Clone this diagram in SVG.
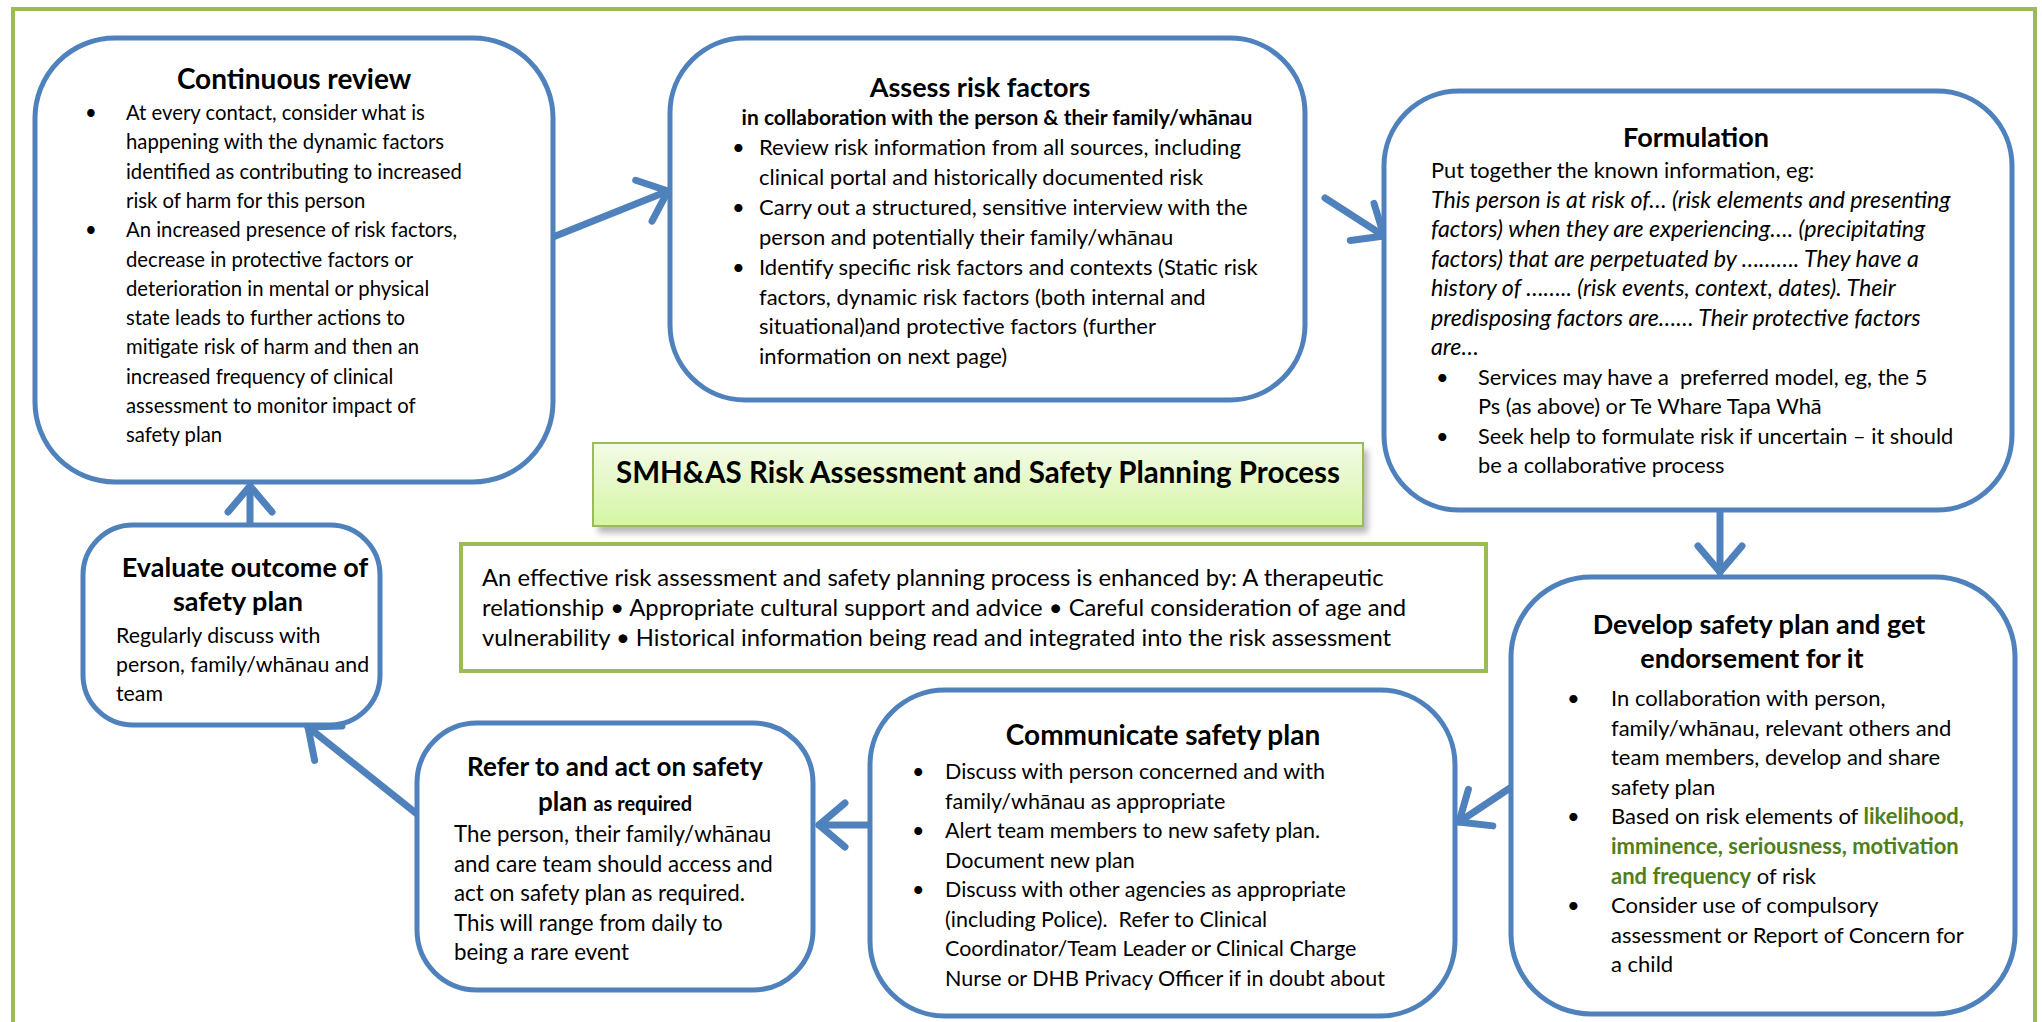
<svg xmlns="http://www.w3.org/2000/svg" width="2042" height="1022" viewBox="0 0 2042 1022">
<style>
.node{fill:#fff;stroke:#4F81BD;stroke-width:5}
.t{font-family:Lato,"Liberation Sans",sans-serif;fill:#000}
.title{font-size:27px;font-weight:bold;text-anchor:middle}
.it{font-style:italic}
.g{fill:#4F7F1A;font-weight:bold}
.conn{stroke:#4F81BD;stroke-width:7;fill:none;stroke-linecap:round;marker-end:url(#arr)}
</style>
<defs>
<marker id="arr" markerUnits="userSpaceOnUse" viewBox="-40 -30 50 60" refX="0" refY="0" markerWidth="50" markerHeight="60" orient="auto">
<path d="M-26,-22 L0,0 L-26,22" fill="none" stroke="#4F81BD" stroke-width="7" stroke-linecap="round" stroke-linejoin="round"/>
</marker>
<linearGradient id="tg" x1="0" y1="0" x2="0" y2="1">
<stop offset="0" stop-color="#F3FBE8"/>
<stop offset="1" stop-color="#D5F5A3"/>
</linearGradient>
<filter id="sh" x="-5%" y="-20%" width="110%" height="150%">
<feGaussianBlur stdDeviation="3"/>
</filter>
<clipPath id="fclip"><rect x="1384" y="91" width="628" height="387"/></clipPath>
</defs>
<rect x="13" y="9" width="2022" height="1040" fill="none" stroke="#9BBB59" stroke-width="4"/>

<g id="connectors">
<line class="conn" x1="553" y1="237" x2="668" y2="191"/>
<line class="conn" x1="1325" y1="198" x2="1384" y2="236"/>
<line class="conn" x1="1720" y1="510" x2="1720" y2="572"/>
<line class="conn" x1="1510" y1="788" x2="1459" y2="822"/>
<line class="conn" x1="868" y1="825" x2="819" y2="825"/>
<line class="conn" x1="417" y1="814" x2="308" y2="727"/>
<line class="conn" x1="250" y1="525" x2="250" y2="486"/>
</g>

<g id="continuous-review">
<rect class="node" x="35" y="38" width="518" height="444" rx="80"/>
<text class="t title" x="294" y="89" style="font-size:28px">Continuous review</text>
<g class="t" style="font-size:20.3px">
<text x="85" y="120">•</text>
<text x="126" y="120">At every contact, consider what is</text>
<text x="126" y="149.3">happening with the dynamic factors</text>
<text x="126" y="178.6">identified as contributing to increased</text>
<text x="126" y="207.9">risk of harm for this person</text>
<text x="85" y="237.2">•</text>
<text x="126" y="237.2">An increased presence of risk factors,</text>
<text x="126" y="266.5">decrease in protective factors or</text>
<text x="126" y="295.8">deterioration in mental or physical</text>
<text x="126" y="325.1">state leads to further actions to</text>
<text x="126" y="354.4">mitigate risk of harm and then an</text>
<text x="126" y="383.7">increased frequency of clinical</text>
<text x="126" y="413">assessment to monitor impact of</text>
<text x="126" y="442.3">safety plan</text>
</g>
</g>

<g id="assess-risk-factors">
<rect class="node" x="670" y="38" width="635" height="362" rx="75"/>
<text class="t title" x="980" y="97">Assess risk factors</text>
<text class="t" x="997" y="125" style="font-size:21px;font-weight:bold;text-anchor:middle">in collaboration with the person &amp; their family/whānau</text>
<g class="t" style="font-size:22px">
<text x="732" y="155">•</text>
<text x="759" y="155">Review risk information from all sources, including</text>
<text x="759" y="184.9">clinical portal and historically documented risk</text>
<text x="732" y="214.8">•</text>
<text x="759" y="214.8">Carry out a structured, sensitive interview with the</text>
<text x="759" y="244.7">person and potentially their family/whānau</text>
<text x="732" y="274.6">•</text>
<text x="759" y="274.6">Identify specific risk factors and contexts (Static risk</text>
<text x="759" y="304.5">factors, dynamic risk factors (both internal and</text>
<text x="759" y="334.4">situational)and protective factors (further</text>
<text x="759" y="364.3">information on next page)</text>
</g>
</g>

<g id="formulation">
<rect class="node" x="1384" y="91" width="628" height="419" rx="75"/>
<text class="t title" x="1696" y="147">Formulation</text>
<g class="t" style="font-size:21.8px" clip-path="url(#fclip)">
<text x="1431" y="178">Put together the known information, eg:</text>
<g class="it" style="font-size:23.2px">
<text x="1431" y="207.5">This person is at risk of… (risk elements and presenting</text>
<text x="1431" y="237">factors) when they are experiencing…. (precipitating</text>
<text x="1431" y="266.5">factors) that are perpetuated by ………. They have a</text>
<text x="1431" y="296">history of …….. (risk events, context, dates). Their</text>
<text x="1431" y="325.5">predisposing factors are…… Their protective factors</text>
<text x="1431" y="355">are…</text>
</g>
<text x="1436" y="384.5">•</text>
<text x="1478" y="384.5">Services may have a&#160; preferred model, eg, the 5</text>
<text x="1478" y="414">Ps (as above) or Te Whare Tapa Whā</text>
<text x="1436" y="443.5">•</text>
<text x="1478" y="443.5">Seek help to formulate risk if uncertain – it should</text>
<text x="1478" y="473">be a collaborative process</text>
</g>
</g>

<g id="develop-safety-plan">
<rect class="node" x="1511" y="577" width="504" height="437" rx="80"/>
<text class="t title" x="1759" y="634">Develop safety plan and get</text>
<text class="t title" x="1752" y="668">endorsement for it</text>
<g class="t" style="font-size:22px">
<text x="1567" y="706">•</text>
<text x="1611" y="706">In collaboration with person,</text>
<text x="1611" y="735.6">family/whānau, relevant others and</text>
<text x="1611" y="765.2">team members, develop and share</text>
<text x="1611" y="794.8">safety plan</text>
<text x="1567" y="824.4">•</text>
<text x="1611" y="824.4">Based on risk elements of <tspan class="g">likelihood,</tspan></text>
<text x="1611" y="854" class="g">imminence, seriousness, motivation</text>
<text x="1611" y="883.6"><tspan class="g">and frequency</tspan> of risk</text>
<text x="1567" y="913.2">•</text>
<text x="1611" y="913.2">Consider use of compulsory</text>
<text x="1611" y="942.8">assessment or Report of Concern for</text>
<text x="1611" y="972.4">a child</text>
</g>
</g>

<g id="communicate-safety-plan">
<rect class="node" x="870" y="690" width="585" height="326" rx="75"/>
<text class="t title" x="1163" y="745" style="font-size:28px">Communicate safety plan</text>
<g class="t" style="font-size:21.5px">
<text x="912" y="779">•</text>
<text x="945" y="779">Discuss with person concerned and with</text>
<text x="945" y="808.5">family/whānau as appropriate</text>
<text x="912" y="838">•</text>
<text x="945" y="838">Alert team members to new safety plan.</text>
<text x="945" y="867.5">Document new plan</text>
<text x="912" y="897">•</text>
<text x="945" y="897">Discuss with other agencies as appropriate</text>
<text x="945" y="926.5">(including Police).&#160; Refer to Clinical</text>
<text x="945" y="956">Coordinator/Team Leader or Clinical Charge</text>
<text x="945" y="985.5">Nurse or DHB Privacy Officer if in doubt about</text>
</g>
</g>

<g id="refer-act">
<rect class="node" x="417" y="723" width="396" height="267" rx="60"/>
<text class="t title" x="615" y="776" style="font-size:26px">Refer to and act on safety</text>
<text class="t title" x="615" y="811" style="font-size:26px">plan <tspan style="font-size:20px">as required</tspan></text>
<g class="t" style="font-size:22.3px">
<text x="454" y="842">The person, their family/whānau</text>
<text x="454" y="871.5">and care team should access and</text>
<text x="454" y="901">act on safety plan as required.</text>
<text x="454" y="930.5">This will range from daily to</text>
<text x="454" y="960">being a rare event</text>
</g>
</g>

<g id="evaluate-outcome">
<rect class="node" x="83" y="525" width="297" height="200" rx="50"/>
<text class="t title" x="245" y="577">Evaluate outcome of</text>
<text class="t title" x="238" y="611">safety plan</text>
<g class="t" style="font-size:21.3px">
<text x="116" y="643">Regularly discuss with</text>
<text x="116" y="672">person, family/whānau and</text>
<text x="116" y="701">team</text>
</g>
</g>

<g id="title-box">
<rect x="598" y="450" width="770" height="83" fill="#888" opacity="0.6" filter="url(#sh)"/>
<rect x="593" y="443" width="770" height="83" fill="url(#tg)" stroke="#9BBB59" stroke-width="2"/>
<text class="t" x="978" y="483" style="font-size:29.5px;font-weight:bold;text-anchor:middle">SMH&amp;AS Risk Assessment and Safety Planning Process</text>
</g>

<g id="enhanced-by">
<rect x="461" y="544" width="1025" height="127" fill="#fff" stroke="#9BBB59" stroke-width="4"/>
<g class="t" style="font-size:23.8px">
<text x="482" y="586">An effective risk assessment and safety planning process is enhanced by: A therapeutic</text>
<text x="482" y="616">relationship • Appropriate cultural support and advice • Careful consideration of age and</text>
<text x="482" y="646">vulnerability • Historical information being read and integrated into the risk assessment</text>
</g>
</g>
</svg>
